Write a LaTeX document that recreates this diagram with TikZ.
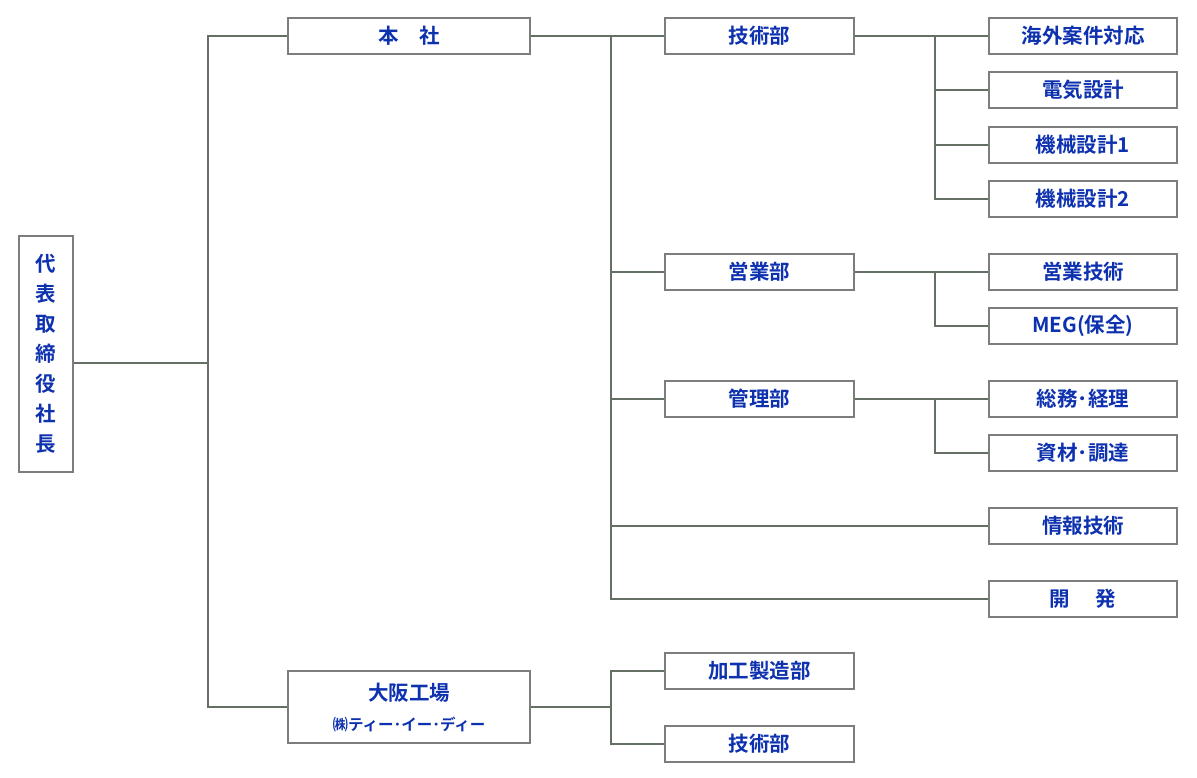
\documentclass[tikz,border=0pt]{standalone}
\usepackage{fontspec}
\setmainfont{Noto Sans CJK JP}[BoldFont={Noto Sans CJK JP Bold}]
\definecolor{txt}{RGB}{14,50,175}
\definecolor{edge}{RGB}{125,125,125}
\definecolor{conn}{RGB}{100,112,100}
\tikzset{
  box/.style={draw=edge, line width=2pt, fill=white, inner sep=0pt,
    text=txt, font=\fontsize{20.5}{22}\selectfont\bfseries, align=center},
  dept/.style={box, minimum width=189pt, minimum height=36pt},
  unit/.style={box, minimum width=188pt, minimum height=36pt},
  line/.style={draw=conn, line width=1.3pt}
}
\begin{document}
\begin{tikzpicture}[x=1pt,y=-1pt]
\useasboundingbox[fill=white] (0,0) rectangle (1197,777);
% nodes
\node[box, minimum width=54pt, minimum height=236pt,
  font=\fontsize{20.5}{30}\selectfont\bfseries] (ceo) at (46,354)
  {代\\表\\取\\締\\役\\社\\長};
\node[box, minimum width=242pt, minimum height=36pt] (honsha) at (409,36) {本　社};
\node[box, minimum width=242pt, minimum height=72pt] (osaka) at (409,707)
  {\raisebox{4pt}{大阪工場}\\[4pt]{\fontsize{15.5}{16}\selectfont ㈱ティー･イー･ディー}};
\node[dept] (gijutsu) at (759.5,36) {技術部};
\node[dept] (eigyo) at (759.5,272) {営業部};
\node[dept] (kanri) at (759.5,399) {管理部};
\node[dept] (kakou) at (759.5,671) {加工製造部};
\node[dept] (gijutsu2) at (759.5,744) {技術部};
\node[unit] (kaigai) at (1083,36) {海外案件対応};
\node[unit] (denki) at (1083,90) {電気設計};
\node[unit] (kikai1) at (1083,145) {機械設計1};
\node[unit] (kikai2) at (1083,199) {機械設計2};
\node[unit] (eigyogi) at (1083,272) {営業技術};
\node[unit] (meg) at (1083,326) {MEG(保全)};
\node[unit] (soumu) at (1083,399) {総務･経理};
\node[unit] (shizai) at (1083,453) {資材･調達};
\node[unit] (joho) at (1083,526) {情報技術};
\node[unit] (kaihatsu) at (1083,599) {開\hspace{1.25em}発};
% junction coordinates
\coordinate (t1) at (208,363);
\coordinate (t2) at (611,36);
\coordinate (t3) at (935,36);
\coordinate (t4) at (935,272);
\coordinate (t5) at (935,399);
\coordinate (t6) at (611,707);
% connectors
\draw[line] ([yshift=-9pt]ceo.east) -- (t1);
\draw[line] (honsha.west) -| (t1) |- (osaka.west);
\draw[line] (honsha.east) -- (gijutsu.west);
\draw[line] (t2) |- (kaihatsu.west);
\draw[line] (t2) |- (eigyo.west);
\draw[line] (t2) |- (kanri.west);
\draw[line] (t2) |- (joho.west);
\draw[line] (gijutsu.east) -- (kaigai.west);
\draw[line] (t3) |- (denki.west);
\draw[line] (t3) |- (kikai1.west);
\draw[line] (t3) |- (kikai2.west);
\draw[line] (eigyo.east) -- (eigyogi.west);
\draw[line] (t4) |- (meg.west);
\draw[line] (kanri.east) -- (soumu.west);
\draw[line] (t5) |- (shizai.west);
\draw[line] (osaka.east) -- (t6);
\draw[line] (kakou.west) -| (t6) |- (gijutsu2.west);
\end{tikzpicture}
\end{document}
